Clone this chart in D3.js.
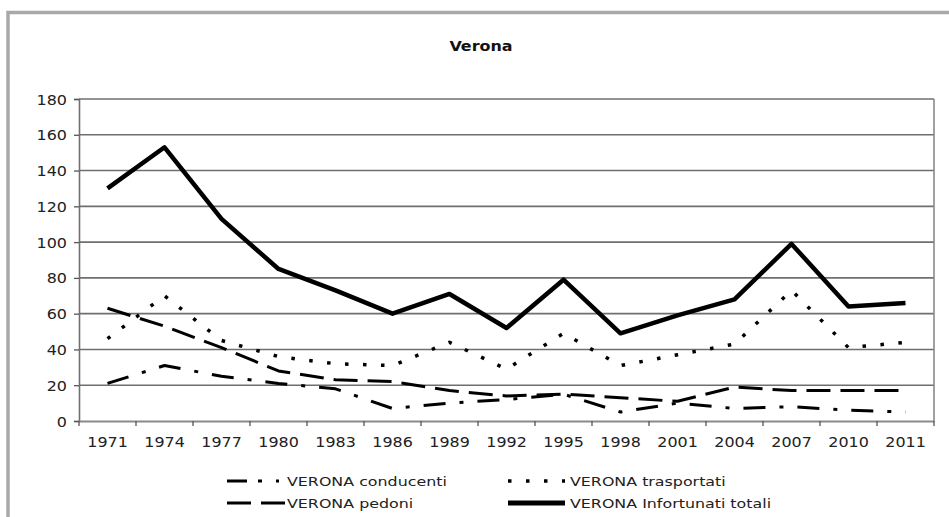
<!DOCTYPE html>
<html><head><meta charset="utf-8">
<script src="https://cdn.jsdelivr.net/npm/d3@7"></script>
<style>
html,body{margin:0;padding:0;background:#fff;}
svg{display:block;font-family:"DejaVu Sans",Verdana,sans-serif;}
</style></head>
<body>
<svg id="chart" width="949" height="517"></svg>
<script>
const title = "Verona";
const years = ["1971","1974","1977","1980","1983","1986","1989","1992","1995","1998","2001","2004","2007","2010","2011"];
const conducenti = [21,31,25,21,18,7,10,12,15,5,10,7,8,6,5];
const trasportati = [46,70,45,36,32,31,44,29,49,31,37,43,73,41,44];
const pedoni = [63,53,41,28,23,22,17,14,15,13,11,19,17,17,17];
const totali = [130,153,113,85,73,60,71,52,79,49,59,68,99,64,66];
const yTicks = [0,20,40,60,80,100,120,140,160,180];
const seriesNames = ["VERONA conducenti","VERONA trasportati","VERONA pedoni","VERONA Infortunati totali"];

const svg = d3.select("#chart");
const L = 79, R = 934, T = 99, B = 421;
const SX = 1.18;

// outer frame
svg.append("path").attr("d","M8,517 L8,12.5 L949,12.5").attr("fill","none")
  .attr("stroke","#a9a9a9").attr("stroke-width",3.5);

const x = d3.scaleBand().domain(years).range([L,R]);
const y = d3.scaleLinear().domain([0,180]).range([B,T]);
const cx = d => x(d) + x.bandwidth()/2;

// gridlines
svg.append("g").selectAll("line").data(yTicks.filter(v=>v>0)).join("line")
  .attr("x1",L).attr("x2",R).attr("y1",d=>y(d)).attr("y2",d=>y(d))
  .attr("stroke","#6f6f6f").attr("stroke-width",1.6);
// right border of plot
svg.append("line").attr("x1",R).attr("x2",R).attr("y1",T).attr("y2",B)
  .attr("stroke","#8a8a8a").attr("stroke-width",1.6);

// y axis
const yAxis = d3.axisLeft(y).tickValues(yTicks).tickSize(5).tickPadding(4);
const gy = svg.append("g").attr("transform",`translate(${L},0)`).call(yAxis);
gy.select(".domain").attr("stroke","#6f6f6f").attr("stroke-width",1.6);
gy.selectAll(".tick line").attr("stroke","#555").attr("stroke-width",1.3);
gy.selectAll(".tick text").attr("font-size",13.5).attr("fill","#222")
  .attr("font-family","DejaVu Sans").attr("x",null).attr("dy",null)
  .attr("text-anchor","end")
  .attr("transform",`translate(-12,5) scale(${SX},1)`);

// x axis
const xAxis = d3.axisBottom(x).tickSize(0).tickPadding(0);
const gx = svg.append("g").attr("transform",`translate(0,${B})`).call(xAxis);
gx.select(".domain").attr("stroke","#8a8a8a").attr("stroke-width",2.2);
gx.selectAll(".tick text").attr("font-size",13.5).attr("fill","#222")
  .attr("font-family","DejaVu Sans").attr("y",null).attr("dy",null)
  .attr("text-anchor","middle")
  .attr("transform",`translate(0,26) scale(${SX},1)`);
// boundary ticks
const bounds = years.map(d=>x(d)).concat([x(years[years.length-1])+x.bandwidth()]);
svg.append("g").selectAll("line").data(bounds).join("line")
  .attr("x1",d=>d).attr("x2",d=>d).attr("y1",B).attr("y2",B+5)
  .attr("stroke","#555").attr("stroke-width",1.3);

// lines
const line = vals => d3.line().x((d,i)=>cx(years[i])).y(d=>y(d))(vals);
const styles = [
  {data:conducenti, w:3, dash:"22,14,4,14", cap:"butt"},
  {data:trasportati, w:3.5, dash:"3.5,14.5", cap:"butt"},
  {data:pedoni, w:3, dash:"24,10", cap:"butt"},
  {data:totali, w:4.5, dash:null, cap:"butt"}
];
styles.forEach(s=>{
  svg.append("path").attr("d",line(s.data)).attr("fill","none")
    .attr("stroke","#000").attr("stroke-width",s.w)
    .attr("stroke-dasharray",s.dash).attr("stroke-linecap",s.cap)
    .attr("stroke-linejoin","round");
});

// title
svg.append("text").text(title).attr("font-weight","bold").attr("font-size",14.5)
  .attr("text-anchor","middle").attr("fill","#111")
  .attr("transform","translate(481,51) scale(1.1,1)");

// legend
const legPos = [[227,481],[508,481],[227,503],[508,503]];
const lg = svg.append("g").selectAll("g").data(styles).join("g")
  .attr("transform",(d,i)=>`translate(${legPos[i][0]},${legPos[i][1]})`);
lg.append("line").attr("x1",0).attr("x2",(d,i)=>i%2===0?58:57).attr("y1",0).attr("y2",0)
  .attr("stroke","#000").attr("stroke-width",(d,i)=>i===3?5:s=>3)
  .attr("stroke-width",d=>d.w===4.5?5:d.w)
  .attr("stroke-dasharray",(d,i)=>i===0?"20,11,4,14,3,10":d.dash);
lg.append("text").text((d,i)=>seriesNames[i]).attr("font-size",13)
  .attr("fill","#222")
  .attr("transform",(d,i)=>`translate(${i%2===0?60:62},5) scale(1.22,1)`);
</script>
</body></html>
